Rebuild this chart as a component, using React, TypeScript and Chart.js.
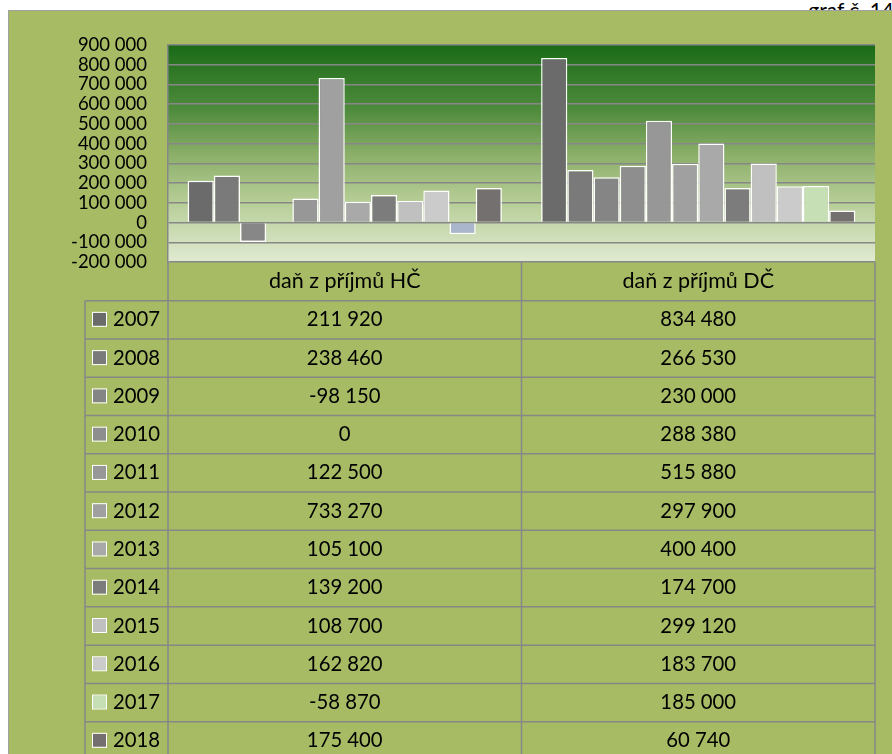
import React, { useEffect, useRef } from 'react';
import { Chart, registerables } from 'chart.js';

Chart.register(...registerables);

// ---------- data ----------
const categories = ['daň z příjmů HČ', 'daň z příjmů DČ'];
const years = ['2007', '2008', '2009', '2010', '2011', '2012', '2013', '2014', '2015', '2016', '2017', '2018'];

const v2007 = [211920, 834480];
const v2008 = [238460, 266530];
const v2009 = [-98150, 230000];
const v2010 = [0, 288380];
const v2011 = [122500, 515880];
const v2012 = [733270, 297900];
const v2013 = [105100, 400400];
const v2014 = [139200, 174700];
const v2015 = [108700, 299120];
const v2016 = [162820, 183700];
const v2017 = [-58870, 185000];
const v2018 = [175400, 60740];
const seriesValues = [v2007, v2008, v2009, v2010, v2011, v2012, v2013, v2014, v2015, v2016, v2017, v2018];

const yMin = -200000;
const yMax = 900000;
const yStep = 100000;

// ---------- styles ----------
const seriesColors = ['#6b6b6b', '#7a7a7a', '#858585', '#8e8e8e', '#979797', '#a0a0a0', '#a9a9a9', '#7c7c7c', '#c0c0c0', '#cbcbcb', '#c6dfb5', '#757070'];
const seriesNegColors = ['#6b6b6b', '#7a7a7a', '#878787', '#8e8e8e', '#979797', '#a0a0a0', '#a9a9a9', '#7c7c7c', '#c0c0c0', '#cbcbcb', '#aab6cb', '#757070'];
const OLIVE = '#a6bb64';
const GRID = '#878787';
const FONT = 'Lato';

const fmt = (v: number) => (v < 0 ? '-' : '') + Math.abs(v).toString().replace(/\B(?=(\d{3})+(?!\d))/g, ' ');

const CANVAS_W = 884;
const CANVAS_H = 744;
const HEADER_H = 38.7;
const ROW_H = 38.27;
const LEGEND_LEFT = 77;

const bgPlugin = {
  id: 'bgPlugin',
  beforeDraw(chart: any) {
    const { ctx, chartArea, width, height } = chart;
    const { left, top, right, bottom } = chartArea;
    ctx.save();
    ctx.fillStyle = OLIVE;
    ctx.fillRect(0, 0, width, height);
    ctx.strokeStyle = '#a0a0a0';
    ctx.lineWidth = 1;
    ctx.beginPath();
    ctx.moveTo(0.5, height);
    ctx.lineTo(0.5, 0.5);
    ctx.lineTo(width, 0.5);
    ctx.stroke();
    const g = ctx.createLinearGradient(0, top, 0, bottom);
    g.addColorStop(0, '#1a6b17');
    g.addColorStop(0.3, '#4f8b3d');
    g.addColorStop(0.5, '#8aae68');
    g.addColorStop(0.72, '#b6cd96');
    g.addColorStop(1, '#e0ead2');
    ctx.fillStyle = g;
    ctx.fillRect(left, top, right - left, bottom - top);
    ctx.restore();
  },
};

const tablePlugin = {
  id: 'dataTable',
  afterDraw(chart: any) {
    const { ctx, chartArea, height } = chart;
    const { left, right, bottom } = chartArea;
    const xScale = chart.scales.x;
    const n = categories.length;
    const colW = (right - left) / n;
    const tableTop = bottom + HEADER_H;
    ctx.save();
    ctx.strokeStyle = GRID;
    ctx.lineWidth = 1.5;
    const line = (x1: number, y1: number, x2: number, y2: number) => {
      ctx.beginPath();
      ctx.moveTo(x1, y1);
      ctx.lineTo(x2, y2);
      ctx.stroke();
    };
    for (let c = 0; c <= n; c++) {
      const x = left + c * colW;
      line(x, bottom, x, height);
    }
    line(LEGEND_LEFT, tableTop, LEGEND_LEFT, height);
    for (let r = 0; r <= years.length; r++) {
      const y = tableTop + r * ROW_H;
      line(LEGEND_LEFT, y, right, y);
    }
    ctx.fillStyle = '#000';
    ctx.font = `21.5px ${FONT}`;
    ctx.textBaseline = 'middle';
    ctx.textAlign = 'center';
    categories.forEach((c, i) => {
      ctx.fillText(c, xScale.getPixelForValue(i), bottom + HEADER_H / 2);
    });
    ctx.font = `20.3px ${FONT}`;
    years.forEach((yr, r) => {
      const cy = tableTop + ROW_H * (r + 0.5);
      ctx.fillStyle = seriesColors[r];
      ctx.fillRect(LEGEND_LEFT + 8, cy - 7, 13, 13);
      ctx.strokeStyle = '#ffffff';
      ctx.lineWidth = 1;
      ctx.strokeRect(LEGEND_LEFT + 7.5, cy - 7.5, 14, 14);
      ctx.fillStyle = '#000';
      ctx.textAlign = 'left';
      ctx.fillText(yr, LEGEND_LEFT + 28, cy);
      ctx.textAlign = 'center';
      seriesValues[r].forEach((v, i) => {
        ctx.fillText(fmt(v), xScale.getPixelForValue(i), cy);
      });
    });
    ctx.restore();
  },
};

export default function App() {
  const ref = useRef<HTMLCanvasElement | null>(null);

  useEffect(() => {
    if (!ref.current) return;
    Chart.defaults.font.family = FONT;
    const chart = new Chart(ref.current, {
      type: 'bar',
      data: {
        labels: categories,
        datasets: years.map((y, i) => ({
          label: y,
          data: seriesValues[i],
          backgroundColor: seriesValues[i].map((v) => (v < 0 ? seriesNegColors[i] : seriesColors[i])),
          borderColor: '#ffffff',
          borderWidth: 1.5,
          barPercentage: 1,
          categoryPercentage: 0.889,
        })),
      },
      options: {
        animation: false,
        responsive: false,
        maintainAspectRatio: false,
        events: [],
        layout: { padding: { left: 0, right: 17, top: 35, bottom: 492 } },
        plugins: {
          legend: { display: false },
          tooltip: { enabled: false },
        },
        scales: {
          x: { display: false },
          y: {
            min: yMin,
            max: yMax,
            afterFit: (scale: any) => {
              scale.width = 160;
            },
            ticks: {
              stepSize: yStep,
              autoSkip: false,
              padding: 21,
              color: '#000',
              font: { family: FONT, size: 18.5, lineHeight: 1 },
              callback: (v: any) => fmt(Number(v)),
            },
            grid: { color: GRID, lineWidth: 1.5, drawTicks: false },
            border: { display: true, color: GRID, width: 1.5 },
          },
        },
      },
      plugins: [bgPlugin, tablePlugin],
    } as any);
    return () => chart.destroy();
  }, []);

  return (
    <div style={{ position: 'absolute', left: 0, top: 0, width: 892, height: 754, overflow: 'hidden', background: '#fff' }}>
      <div
        style={{
          position: 'absolute',
          right: -2,
          top: 0,
          fontFamily: FONT,
          fontSize: 21,
          lineHeight: '20px',
          color: '#000',
          whiteSpace: 'nowrap',
        }}
      >
        graf č. 14
      </div>
      <canvas
        ref={ref}
        width={CANVAS_W}
        height={CANVAS_H}
        style={{ position: 'absolute', left: 8, top: 10, width: CANVAS_W, height: CANVAS_H }}
      />
    </div>
  );
}
